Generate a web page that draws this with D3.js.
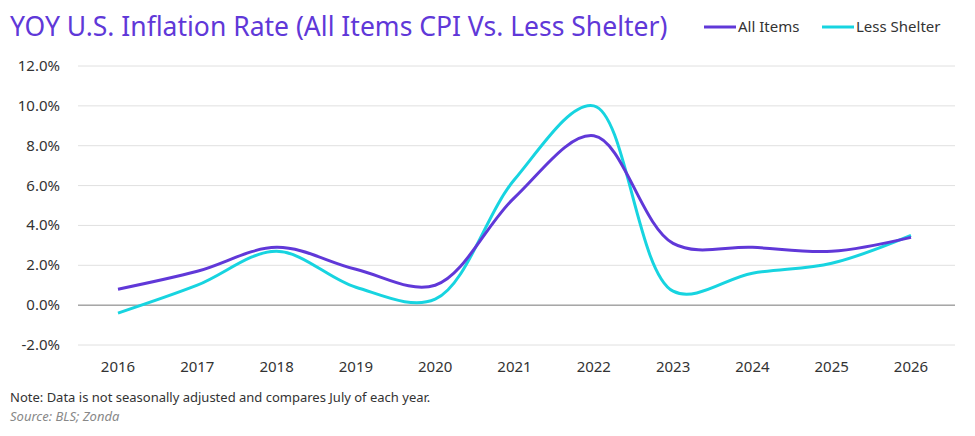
<!DOCTYPE html>
<html><head><meta charset="utf-8">
<script src="https://cdn.jsdelivr.net/npm/d3@7"></script>
<style>body{margin:0;background:#fff;font-family:"Noto Sans",sans-serif}</style>
</head><body><div id="chart"></div>
<script>
var years = [2016,2017,2018,2019,2020,2021,2022,2023,2024,2025,2026];
var allItems = [0.8,1.7,2.9,1.8,1.0,5.4,8.5,3.1,2.9,2.7,3.4];
var lessShelter = [-0.4,1.0,2.7,0.9,0.3,6.3,10.0,0.7,1.6,2.1,3.5];
var yTicks = [-2,0,2,4,6,8,10,12];

var W = 975, H = 436;
var svg = d3.select("#chart").append("svg").attr("width", W).attr("height", H);

var x = d3.scalePoint().domain(years).range([118, 911]);
var y = d3.scaleLinear().domain([-2, 12]).range([345, 66]);

// gridlines
svg.append("g").selectAll("line").data(yTicks).enter().append("line")
    .attr("x1", 78).attr("x2", 955)
    .attr("y1", d => y(d)).attr("y2", d => y(d))
    .attr("stroke", d => d === 0 ? "#777" : "#e0e0e0").attr("stroke-width", 1);

svg.append("g").selectAll("text").data(yTicks).enter().append("text")
    .attr("x", 60).attr("y", d => y(d) + 5).attr("text-anchor", "end")
    .attr("font-size", 15).attr("fill", "#333")
    .text(d => d.toFixed(1) + "%");

svg.append("g").selectAll("text").data(years).enter().append("text")
    .attr("x", d => x(d)).attr("y", 372).attr("text-anchor", "middle")
    .attr("font-size", 15).attr("fill", "#333").text(d => d);

var line = d3.line().curve(d3.curveCatmullRom.alpha(0.5))
    .x((d, i) => x(years[i])).y(d => y(d));

svg.append("path").datum(lessShelter).attr("d", line)
    .attr("fill", "none").attr("stroke", "#17d4e0").attr("stroke-width", 3);
svg.append("path").datum(allItems).attr("d", line)
    .attr("fill", "none").attr("stroke", "#6038d8").attr("stroke-width", 3);

svg.append("text").attr("x", 10).attr("y", 36).attr("font-size", 26.5)
    .attr("fill", "#6038d8").text("YOY U.S. Inflation Rate (All Items CPI Vs. Less Shelter)");

var legend = [["All Items", "#6038d8", 704], ["Less Shelter", "#17d4e0", 822]];
legend.forEach(function(l) {
    svg.append("line").attr("x1", l[2]).attr("x2", l[2] + 32).attr("y1", 27).attr("y2", 27)
        .attr("stroke", l[1]).attr("stroke-width", 3);
    svg.append("text").attr("x", l[2] + 34).attr("y", 32).attr("font-size", 15)
        .attr("fill", "#333").text(l[0]);
});

svg.append("text").attr("x", 10).attr("y", 402).attr("font-size", 13).attr("fill", "#333")
    .text("Note: Data is not seasonally adjusted and compares July of each year.");
svg.append("text").attr("x", 10).attr("y", 421).attr("font-size", 13).attr("fill", "#888")
    .attr("font-style", "italic").text("Source: BLS; Zonda");
</script></body></html>
